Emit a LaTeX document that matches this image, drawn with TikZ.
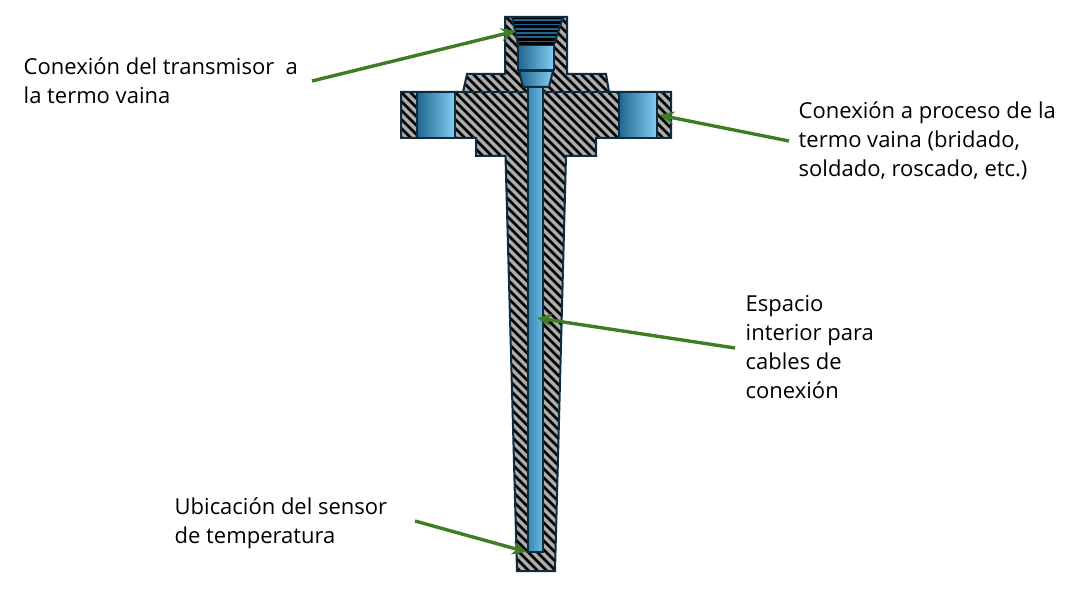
\documentclass[tikz,border=0pt]{standalone}
\usepackage{fontspec}
\setmainfont{Open Sans}
\definecolor{outl}{HTML}{0E2C3E}
\definecolor{hatchgray}{HTML}{ADADAD}
\definecolor{darkb}{HTML}{1F668F}
\definecolor{lightb}{HTML}{83CEF3}
\definecolor{boreL}{HTML}{3587B3}
\definecolor{boreR}{HTML}{6DBBE5}
\definecolor{leader}{HTML}{3F7D24}
\tikzset{
  outline/.style={draw=outl,line width=2pt,line join=miter},
  cavity/.style={left color=darkb,right color=lightb},
  borefill/.style={left color=boreL,right color=boreR},
  leaderline/.style={draw=leader,line width=3.4pt,-{Stealth[length=15pt,width=13pt]}},
  label/.style={anchor=north west,align=left,inner sep=0pt,font=\fontsize{22}{29}\selectfont,text=black},
}
\usetikzlibrary{arrows.meta}
\begin{document}
\begin{tikzpicture}[x=1pt,y=-1pt]
\useasboundingbox (0,0) rectangle (1082,591);
% body
\def\bodypath{(505,17) -- (567,17) -- (567,74) -- (606,74) -- (609,92) -- (671,92) -- (671,138) -- (596,138) -- (596,156) -- (566,156) -- (555,571) -- (517,571) -- (505.5,156) -- (476,156) -- (476,138) -- (401,138) -- (401,92) -- (463,92) -- (467,74) -- (505,74) -- cycle}
\fill[hatchgray] \bodypath;
\begin{scope}
\clip \bodypath;
\foreach \i in {-600,-591,...,1100}
  \draw[black,line width=2.5pt] (\i,0) -- (\i+600,600);
\end{scope}
\draw[outline] \bodypath;
% flange holes
\shade[cavity] (417,92) rectangle (455,138);
\shade[cavity] (619,92) rectangle (657,138);
\draw[outline] (417,92) rectangle (455,138);
\draw[outline] (619,92) rectangle (657,138);
\draw[outline] (463,92) -- (671,92);
% bore
\shade[borefill] (528,87) rectangle (543,552);
\draw[outline] (528,87) -- (528,552) -- (543,552) -- (543,87);
% transmitter chamber
\shade[cavity] (518,45) rectangle (554,70);
\draw[outline] (518,45) rectangle (554,70);
\shade[cavity] (519,71) -- (553,71) -- (549,87) -- (523,87) -- cycle;
\draw[outline] (519,71) -- (553,71) -- (549,87) -- (523,87) -- cycle;
% thread
\fill[darkb] (512,17) -- (563,17) -- (554,45) -- (518,45) -- cycle;
\begin{scope}
\clip (512,17) -- (563,17) -- (554,45) -- (518,45) -- cycle;
\foreach \yy in {18,22.3,26.6,30.9,35.2,39.5,43.8}
  \draw[black,line width=2.6pt] (505,\yy) -- (567,\yy);
\end{scope}
\draw[outline] (512,17) -- (518,45);
\draw[outline] (563,17) -- (554,45);
\draw[outline] (505,17) -- (567,17);
% labels
\node[label] (lblA) at (23.5,57) {Conexión del transmisor\ \ a\\la termo vaina};
\node[label] (lblB) at (798.5,101.5) {Conexión a proceso de la\\termo vaina (bridado,\\soldado, roscado, etc.)};
\node[label] (lblC) at (745.5,295.5) {Espacio\\interior para\\cables de\\conexión};
\node[label] (lblD) at (174.5,497) {Ubicación del sensor\\de temperatura};
% leader ends
\coordinate (a1) at (312,81); \coordinate (a2) at (516,31);
\coordinate (b1) at (789,141); \coordinate (b2) at (659,115);
\coordinate (c1) at (735,348); \coordinate (c2) at (537,318);
\coordinate (d1) at (415,521); \coordinate (d2) at (527,552);
\draw[leaderline] (a1) -- (a2);
\draw[leaderline] (b1) -- (b2);
\draw[leaderline] (c1) -- (c2);
\draw[leaderline] (d1) -- (d2);
\end{tikzpicture}
\end{document}
